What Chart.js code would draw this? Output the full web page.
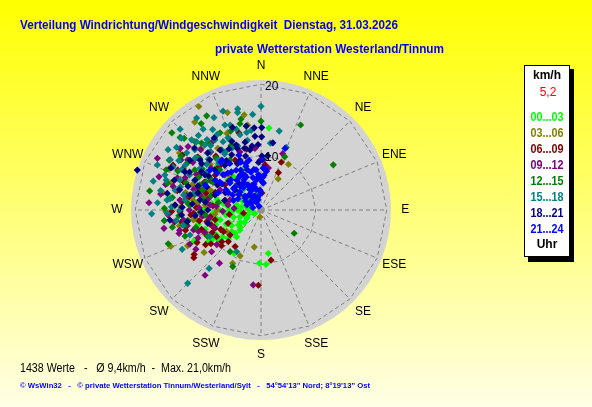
<!DOCTYPE html>
<html>
<head>
<meta charset="utf-8">
<script src="https://cdn.jsdelivr.net/npm/chart.js@4/dist/chart.umd.min.js"></script>
<style>
  html, body { margin: 0; padding: 0; background: #ffff00; }
  #wrap { width: 592px; height: 407px; position: relative; }
</style>
</head>
<body>
<div id="wrap"><canvas id="windChart"></canvas></div>
<script>
// wind direction (degrees, 0 = N) and speed (km/h), one array per 3 hours
const hourLabels = ["00...03", "03...06", "06...09", "09...12", "12...15", "15...18", "18...21", "21...24"];
const hourColors = ["#00ff00", "#808000", "#800000", "#800080", "#008000", "#008080", "#000080", "#0000ff"];
const directions = ["N", "NNE", "NE", "ENE", "E", "ESE", "SE", "SSE", "S", "SSW", "SW", "WSW", "W", "WNW", "NW", "NNW"];
const ringValues = [10, 20];
const radialMin = 2.3;   // speed at the centre of the rose
const radialMax = 20.6;  // speed at the rim of the grey disc
const labelSpeed = 22.6; // where the compass labels sit

const h00_03 = [[5.6,13.9],[211.7,9.5],[170.4,8.5],[174.7,10.0],[181.8,9.8],[244,3.4],
  [277.9,15.2],[243.8,12.4],[238.7,10.4],[240.6,9.5],[256.3,8.2],[242,8.3],[247.2,7.1],[233.5,7.4],
  [222.3,7.4],[226.4,6.4],[236.5,6.1],[233,5.2],[245,4.5],[252.3,5.4],[270,3.9],[241,3.3],[297.8,4.3],
  [281.6,5.8],[280,7.7],[277.7,9.3],[270,8.1],[266.7,6.4],[260.4,9.3],[271.7,10.2],[290.4,9.7],[301,9.1],
  [312.5,8.6],[305.5,5.9],[312.3,4.4],[350.8,4.7],[318.5,6.1],[320.3,8.4],[314.4,11.0],[336,8.5],
  [245,12.7],[240,9.8],[239,11.0],[240,4.6],
  [262,5.1],[255,6.3],[248,7.6],[240,5.7],[235,8.9],[228,7.2],[270,5.6],[276,7.0],[283,8.6],[290,6.5],
  [300,7.9],[258,8.6],[266,9.1],[230,6.1],[245,9.8],[251,4.3],[285,4.5],[274,3.9],[296,5.2],[308,6.7],
  [251,10.6],[257,11.4],[234,9.6],[229,8.4],[262,7.3],[269,6.8],[278,5.1],[242,7.0],[252,9.0]];

const h03_06 = [[329,19.3],[350,15.9],[31,9.8],[29,7.3],[4.4,9.6],[248,16.0],[233.3,12.3],[208,10.8],
  [204.5,9.4],[190.3,7.6],[189,3.3],[294,16.5],[287,15.5],[280,16.3],[261.6,11.9],[270,8.5],[291.4,10.0],
  [318.5,8.9],[320.6,11.4],[286.9,12.0],[305.5,5.9],[275,10.2],[351,14.4],
  [265,8.8],[278,11.9],[290,12.6],[255,9.7],[300,9.2],[312,11.9],[272,13.6],[247,10.9],[284,10.3],
  [238,8.0],[325,12.9],[262,11.5],
  [269,15.7],[283,13.2],[297,13.7],[305,16.3],[316,14.4],[336,14.1],[259,14.0],[276,11.3],[290,9.1],
  [244,13.8],[341,16.8],[323,17.8]];

const h06_09 = [[23,9.6],[25,8.1],[5,8.7],[3,4.7],[236.4,13.6],[234.6,13.9],[168.7,9.5],[182,12.9],
  [297,16.2],[344,13.6],[346.7,11.1],[305,15.8],[268.8,13.7],[261.6,13.6],[267.2,11.8],[257.8,10.1],
  [262.5,9.5],[248.3,9.3],[231,7.9],[231,9.4],[226,8.7],[215.3,8.6],[239,9.6],[259.5,4.8],[307.3,10.4],
  [288,11.3],[304.8,8.5],[332.5,10.2],[282,12.4],
  [245,9.9],[252,11.1],[240,8.4],[258,8.9],[265,10.3],[272,11.4],[280,12.6],[291,9.2],[296,11.2],
  [236,10.8],[228,9.8],[248,7.3],[262,6.8],[285,7.5],[300,12.3],[275,9.1],[243,12.4],[255,13.3],
  [269,14.9],[276,13.5],[283,14.4],[290,13.9],[298,14.7],[310,13.9],[320,12.2],[287,10.4],[266,12.2],
  [253,9.6],[238,11.5],[244,8.6],[260,11.1],[316,10.8]];

const h09_12 = [[21,10.8],[273.7,18.1],[296.5,18.6],[259.3,16.2],[254,14.3],[244.4,13.4],[220.6,14.4],
  [218,11.8],[185.9,12.9],[324.7,14.1],[307.3,16.6],[315,14.3],[354.4,11.0],[285,15.1],[262.7,13.3],
  [253.5,12.2],[251,11.6],[229.8,11.4],[278.7,7.0],[273.6,6.1],[283.8,11.1],[275.6,9.5],[265.7,11.6],
  [296,8.7],[288,6.9],[304.4,14.8],[295.7,15.3],[314.2,9.4],[340,11.0],[359,9.3],[10,8.3],
  [270,12.4],[277,13.8],[282,9.9],[290,11.7],[299,12.7],[305,14.0],[264,10.6],[258,12.9],[248,10.8],
  [291,14.9],[285,16.2],[275,8.6],[262,14.6],[310,11.5],[268,7.7],
  [281,13.0],[287,12.2],[293,13.9],[302,15.6],[311,15.9],[267,15.4],[256,14.1],[246,12.0],[239,13.0],
  [272,11.0],[279,16.6],[300,10.5],[319,13.1],[288,17.4],[261,9.7],[250,9.3],[232,10.2]];

const h12_15 = [[330,17.6],[25,15.5],[0,14.8],[24,10.5],[58,14.3],[279.7,18.2],[263.7,16.0],[250,16.2],
  [206.5,11.2],[216.6,9.6],[125,8.0],[310.9,18.9],[311.9,17.6],[313,17.1],[298.5,17.0],[347.6,15.4],
  [325.3,17.1],[332,14.6],[339,14.2],[346.3,14.8],[318.4,14.9],[292.3,11.6],[302,10.8],[274,12.3],
  [265,10.2],[314.3,10.4],[328.2,10.6],[258.8,13.2],[301.2,13.2],
  [283,11.9],[290,13.5],[297,11.0],[305,12.4],[310,13.6],[275,12.6],[268,10.9],[262,12.7],[286,9.6],
  [300,10.1],[319,12.0],[273,14.5],[255,11.8],[295,15.2],[280,8.4],
  [271,15.9],[278,14.9],[286,16.0],[293,16.8],[304,15.9],[316,15.7],[322,14.2],[289,11.0],[281,10.6],
  [266,13.9],[259,15.0],[251,13.6],[244,10.7],[303,14.6],[335,12.3],[298,12.2]];

const h15_18 = [[0,16.9],[346.5,16.4],[355,15.8],[13,13.7],[8,11.8],[22,11.8],[268,17.7],[293.5,18.2],
  [250.6,12.9],[243.5,14.7],[221.6,13.3],[225,16.9],[306.5,17.1],[281,16.7],[277,15.2],[324.4,16.3],
  [329,15.5],[340,15.0],[349.5,13.4],[349,12.3],[336,13.1],[331,13.3],[322.5,14.8],[315.3,16.2],
  [316.7,15.5],[307.6,15.5],[326.8,12.4],[312.3,14.9],[319.3,14.4],[326.7,14.1],[335.4,13.5],
  [344.4,13.3],[318.7,13.2],[328.2,11.9],[300.6,14.7],[304.5,12.7],[296.2,13.5],[290.3,14.5],[283,14.7],
  [277.5,13.1],[308.2,14.1],[319.3,11.6],[334.9,11.9],[270,13.7],[290,16.7],[287.5,16.3],[242.4,10.4],
  [272,14.9],[210.2,9.1],
  [301,15.8],[309,14.0],[314,12.6],[322,13.8],[330,14.6],[337,15.3],[343,14.2],[353,13.6],[286,14.1],
  [294,12.5],[305,11.6],[318,11.2],[327,11.7],[340,11.9],[281,13.4],[276,15.6],[299,16.9],[312,17.4],
  [320,16.0],[297,14.8],
  [268,15.5],[274,16.9],[285,18.0],[296,16.1],[303,17.9],[315,18.4],[325,18.1],[333,16.9],[339,17.2],
  [347,16.9],[263,14.3],[259,13.5],[284,12.0],[310,12.3]];

const h18_21 = [[355.3,13.9],[350,14.3],[0.5,13.9],[0.5,12.6],[355.3,12.7],[7,10.0],[287.9,20.6],
  [263.7,15.2],[332.4,12.0],[339,11.6],[10,11.9],[332,11.1],[321,10.4],[311,10.9],[302,11.6],[294.4,12.5],
  [282,12.5],[279.3,11.0],[296.6,14.3],[337,9.9],[349.6,10.9],[346.8,12.1],[339,12.1],[357.4,11.5],
  [325.7,12.5],[314.4,12.4],[335,7.7],[307.6,6.9],[284.5,7.6],[288,9.1],[283.9,14.1],[273.3,14.4],
  [309.3,13.4],[305,14.5],[1,9.9],[1,6.8],[266.4,13.5],[255.8,10.0],
  [300,9.4],[293,10.6],[285,11.5],[278,10.2],[308,12.9],[317,13.3],[325,10.8],[333,9.6],[344,10.2],
  [352,11.4],[298,13.7],[288,13.1],[275,12.0],[312,8.4],[320,7.2],[296,7.9],[270,9.8],[265,11.6],
  [303,11.1],[337,12.8],
  [272,13.4],[280,15.7],[289,15.2],[295,16.3],[303,12.3],[313,15.1],[327,14.4],[341,14.6],[261,12.8],
  [268,10.7],[291,11.8],[345,11.3],[357,9.0]];

const h21_24 = [[343,3.8],[337,4.4],[336,5.4],[332.5,6.3],[330.5,7.2],[329,8.0],[328,8.9],[357,5.1],
  [2,6.3],[353,6.8],[345,7.8],[341,8.8],[337,9.6],[5,7.2],[5.4,8.2],[302,4.1],[307,5.1],[310.6,6.2],
  [311.5,7.2],[311,8.1],[321,7.7],[333,8.0],[345,6.1],[353,8.0],[346.5,9.5],[333,2.9],[286,3.5],
  [289.6,4.4],[298,6.8],[300,8.0],[304,9.3],[318,9.3],[2,9.4],[3,8.2],[5,6.1],[21.3,11.6],[303,10.0],
  [294,10.9],[308,11.4],[322,11.2],[322,6.4],[321,5.0],[345,5.6],
  [318,4.2],[325,4.9],[331,5.6],[340,6.0],[347,5.2],[352,6.6],[336,7.4],[327,7.9],[319,6.7],[311,5.3],
  [305,6.1],[315,8.3],[322,9.1],[333,8.6],[342,9.2],[350,8.1],[356,7.3],[3,6.9],[8,7.8],[345,4.1],
  [329,3.6],[300,4.8],[296,5.9],[308,7.2],[313,9.6],[326,10.2],[338,10.6],[317,3.9],[334,4.5],
  [359,4.6],[346,7.0],[322,6.3],[304,8.9],[298,7.5],[289,6.4],[292,8.8],[328,6.9],[341,8.3],
  [310,10.4],[320,11.1]];

const hourSeries = [h00_03, h03_06, h06_09, h09_12, h12_15, h15_18, h18_21, h21_24];

const titleText = "Verteilung Windrichtung/Windgeschwindigkeit  Dienstag, 31.03.2026";
const subtitleText = "private Wetterstation Westerland/Tinnum";
const calmText = "5,2";
const statsText = "1438 Werte   -   \u00d8 9,4km/h  -  Max. 21,0km/h";
const creditText = "\u00a9 WsWin32   -   \u00a9 private Wetterstation Tinnum/Westerland/Sylt   -   54\u00b054'13\" Nord; 8\u00b019'13\" Ost";

const FONT = '"Liberation Sans", Arial, sans-serif';
const span = radialMax - radialMin;

function toXY(p) {
  const a = p[0] * Math.PI / 180;
  const r = Math.max(p[1] - radialMin, 0);
  return { x: r * Math.sin(a), y: r * Math.cos(a) };
}

function polarPixel(chart, dir, spd) {
  const a = dir * Math.PI / 180, r = spd - radialMin;
  return [chart.scales.x.getPixelForValue(r * Math.sin(a)), chart.scales.y.getPixelForValue(r * Math.cos(a))];
}

const windRose = {
  id: 'windRose',
  beforeDraw(chart) {
    const ctx = chart.ctx;
    const g = ctx.createLinearGradient(0, 0, 0, chart.height);
    g.addColorStop(0, '#ffff00');
    g.addColorStop(1, '#ffffe6');
    ctx.save();
    ctx.fillStyle = g;
    ctx.fillRect(0, 0, chart.width, chart.height);
    ctx.restore();
  },
  beforeDatasetsDraw(chart) {
    const ctx = chart.ctx, sx = chart.scales.x, sy = chart.scales.y;
    const cx = sx.getPixelForValue(0), cy = sy.getPixelForValue(0);
    ctx.save();
    ctx.fillStyle = '#d3d3d3';
    ctx.beginPath();
    ctx.arc(cx, cy, sx.getPixelForValue(span) - cx, 0, Math.PI * 2);
    ctx.fill();

    ctx.strokeStyle = '#808080';
    ctx.lineWidth = 1;
    ctx.setLineDash([4, 3]);
    ringValues.forEach(v => {
      ctx.beginPath();
      directions.forEach((d, i) => {
        const p = polarPixel(chart, i * 22.5, v);
        if (i === 0) ctx.moveTo(p[0], p[1]); else ctx.lineTo(p[0], p[1]);
      });
      ctx.closePath();
      ctx.stroke();
    });
    const outer = ringValues[ringValues.length - 1];
    directions.forEach((d, i) => {
      const p = polarPixel(chart, i * 22.5, outer);
      ctx.beginPath();
      ctx.moveTo(cx, cy);
      ctx.lineTo(p[0], p[1]);
      ctx.stroke();
    });
    ctx.setLineDash([]);

    ctx.fillStyle = '#000';
    ctx.font = '12px ' + FONT;
    ctx.textAlign = 'center';
    ctx.textBaseline = 'middle';
    directions.forEach((d, i) => {
      const p = polarPixel(chart, i * 22.5, labelSpeed);
      ctx.fillText(d, p[0], p[1]);
    });
    ctx.fillStyle = '#909090';
    ctx.fillRect(cx - 3, cy - 3, 6, 6);
    ctx.restore();
  },
  afterDatasetsDraw(chart) {
    const ctx = chart.ctx;
    ctx.save();
    ctx.fillStyle = '#000';
    ctx.font = '12px ' + FONT;
    ctx.textAlign = 'left';
    ctx.textBaseline = 'middle';
    ringValues.forEach(v => {
      const p = polarPixel(chart, 0, v);
      ctx.fillText(String(v), p[0] + 4, p[1] + 2);
    });
    ctx.restore();
  },
  afterDraw(chart) {
    const ctx = chart.ctx;
    ctx.save();
    ctx.textBaseline = 'middle';
    ctx.fillStyle = '#0000ff';
    ctx.font = 'bold 13px ' + FONT;
    ctx.fillText(titleText, 20, 25, 378);
    ctx.fillText(subtitleText, 215, 49, 229);

    // legend box
    ctx.fillStyle = '#000';
    ctx.fillRect(528, 69, 46, 193);
    ctx.fillStyle = '#fff';
    ctx.fillRect(524, 65, 46, 192);
    ctx.strokeStyle = '#000';
    ctx.lineWidth = 1;
    ctx.strokeRect(524.5, 65.5, 45, 191);
    ctx.textAlign = 'center';
    ctx.font = 'bold 12px ' + FONT;
    ctx.fillStyle = '#000';
    ctx.fillText('km/h', 547, 76, 34);
    ctx.font = '12px ' + FONT;
    ctx.fillStyle = '#ff0000';
    ctx.fillText(calmText, 548, 93);
    ctx.font = 'bold 12px ' + FONT;
    hourLabels.forEach((l, i) => {
      ctx.fillStyle = hourColors[i];
      ctx.fillText(l, 547, 118 + i * 15.9, 33);
    });
    ctx.fillStyle = '#000';
    ctx.fillText('Uhr', 547, 245);

    ctx.textAlign = 'left';
    ctx.font = '12px ' + FONT;
    ctx.fillText(statsText, 20, 369, 211);
    ctx.fillStyle = '#0000ff';
    ctx.font = 'bold 8px ' + FONT;
    ctx.fillText(creditText, 20, 386, 350);
    ctx.restore();
  }
};

new Chart(document.getElementById('windChart'), {
  type: 'scatter',
  data: {
    datasets: hourSeries.map((pts, i) => ({
      label: hourLabels[i],
      data: pts.map(toXY),
      backgroundColor: hourColors[i],
      borderColor: hourColors[i],
      borderWidth: 0,
      pointStyle: 'rectRot',
      pointRadius: 3.6,
      order: hourSeries.length - i
    }))
  },
  options: {
    responsive: true,
    maintainAspectRatio: false,
    animation: false,
    layout: { padding: { left: 131, right: 201, top: 80, bottom: 67 } },
    scales: {
      x: { type: 'linear', display: false, min: -span, max: span },
      y: { type: 'linear', display: false, min: -span, max: span }
    },
    plugins: { legend: { display: false }, tooltip: { enabled: false } }
  },
  plugins: [windRose]
});
</script>
</body>
</html>
